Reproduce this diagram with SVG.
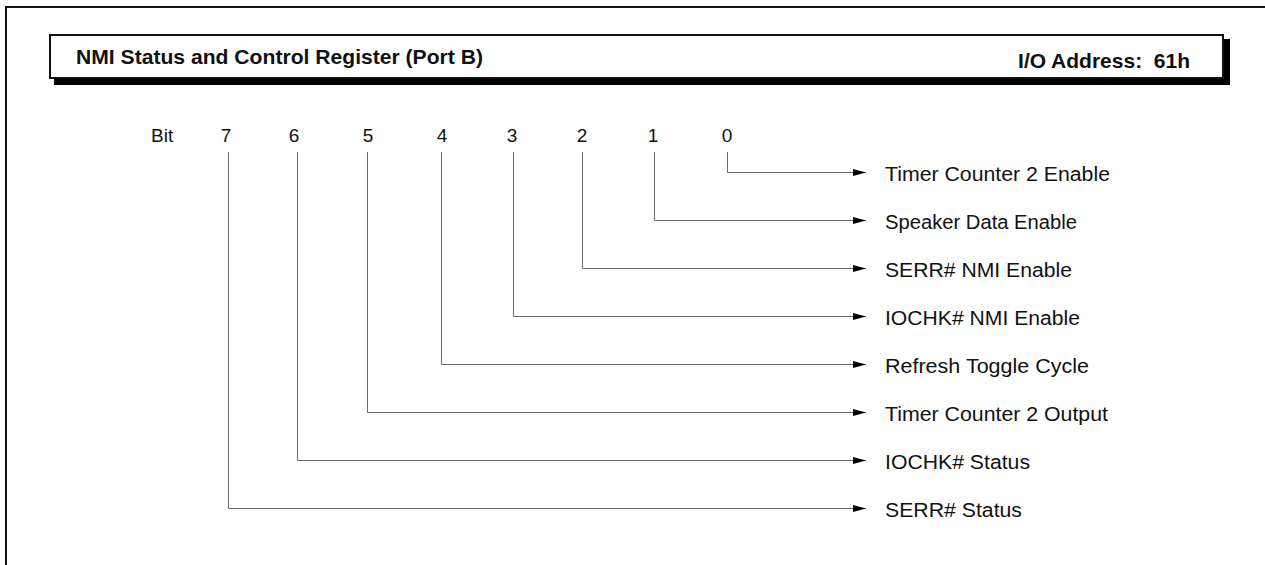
<svg xmlns="http://www.w3.org/2000/svg" width="1265" height="565" viewBox="0 0 1265 565">
  <style>
    .t { font-family: "Liberation Sans", Arial, Helvetica, sans-serif; fill: #111; }
    .title { font-size: 21px; font-weight: bold; }
    .bit { font-size: 19px; }
    .lbl { font-size: 20px; }
    .conn { fill: none; stroke: #6a6a6a; stroke-width: 1; }
  </style>
  <defs>
    <marker id="arr" markerUnits="userSpaceOnUse" viewBox="0 0 13 7" markerWidth="13" markerHeight="7" refX="13" refY="3.5" orient="auto">
      <path d="M0,0 L13,3.5 L0,7 Z" fill="#000"/>
    </marker>
  </defs>
  <rect width="1265" height="565" fill="#fff"/>
  <!-- outer frame (right and bottom are outside the picture) -->
  <path d="M6,566 V7 H1266" fill="none" stroke="#111" stroke-width="2"/>

  <g id="header">
    <rect x="54" y="39" width="1176" height="46" fill="#000"/>
    <rect x="50" y="35" width="1173" height="43" fill="#fff" stroke="#111" stroke-width="2"/>
    <text class="t title" x="76" y="64" textLength="407" lengthAdjust="spacingAndGlyphs">NMI Status and Control Register (Port B)</text>
    <text class="t title" x="1190" y="68" text-anchor="end" xml:space="preserve">I/O Address:  61h</text>
  </g>

  <g id="bits">
    <text class="t bit" x="151" y="142">Bit</text>
    <text class="t bit" x="226" y="142" text-anchor="middle">7</text>
    <text class="t bit" x="294" y="142" text-anchor="middle">6</text>
    <text class="t bit" x="368" y="142" text-anchor="middle">5</text>
    <text class="t bit" x="442" y="142" text-anchor="middle">4</text>
    <text class="t bit" x="512" y="142" text-anchor="middle">3</text>
    <text class="t bit" x="582" y="142" text-anchor="middle">2</text>
    <text class="t bit" x="653" y="142" text-anchor="middle">1</text>
    <text class="t bit" x="727" y="142" text-anchor="middle">0</text>
  </g>

  <g id="connectors">
    <path class="conn" marker-end="url(#arr)" d="M727.5,152 V172.5 H866"/>
    <path class="conn" marker-end="url(#arr)" d="M654.5,152 V220.5 H866"/>
    <path class="conn" marker-end="url(#arr)" d="M582.5,152 V268.5 H866"/>
    <path class="conn" marker-end="url(#arr)" d="M513.5,152 V316.5 H866"/>
    <path class="conn" marker-end="url(#arr)" d="M441.5,152 V364.5 H866"/>
    <path class="conn" marker-end="url(#arr)" d="M367.5,152 V412.5 H866"/>
    <path class="conn" marker-end="url(#arr)" d="M297.5,152 V460.5 H866"/>
    <path class="conn" marker-end="url(#arr)" d="M228.5,152 V508.5 H866"/>
  </g>

  <g id="bit0"><text class="t lbl" x="885" y="181" textLength="225" lengthAdjust="spacingAndGlyphs">Timer Counter 2 Enable</text></g>
  <g id="bit1"><text class="t lbl" x="885" y="229" textLength="192" lengthAdjust="spacingAndGlyphs">Speaker Data Enable</text></g>
  <g id="bit2"><text class="t lbl" x="885" y="277" textLength="187" lengthAdjust="spacingAndGlyphs">SERR# NMI Enable</text></g>
  <g id="bit3"><text class="t lbl" x="885" y="325" textLength="195" lengthAdjust="spacingAndGlyphs">IOCHK# NMI Enable</text></g>
  <g id="bit4"><text class="t lbl" x="885" y="373" textLength="204" lengthAdjust="spacingAndGlyphs">Refresh Toggle Cycle</text></g>
  <g id="bit5"><text class="t lbl" x="885" y="421" textLength="223" lengthAdjust="spacingAndGlyphs">Timer Counter 2 Output</text></g>
  <g id="bit6"><text class="t lbl" x="885" y="469" textLength="145" lengthAdjust="spacingAndGlyphs">IOCHK# Status</text></g>
  <g id="bit7"><text class="t lbl" x="885" y="517" textLength="137" lengthAdjust="spacingAndGlyphs">SERR# Status</text></g>
</svg>
